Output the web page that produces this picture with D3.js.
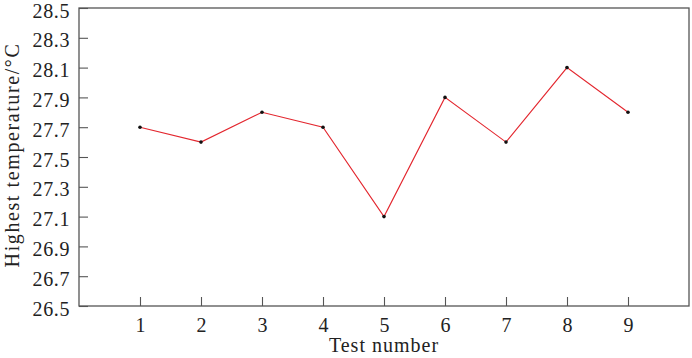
<!DOCTYPE html>
<html>
<head>
<meta charset="utf-8">
<script src="https://cdn.jsdelivr.net/npm/d3@7"></script>
<style>
  body { margin: 0; background: #fff; }
  svg text { font-family: "Liberation Serif", "DejaVu Serif", serif; fill: #222; }
</style>
</head>
<body>
<svg id="chart" width="692" height="358"></svg>
<script>
// test numbers and measured peak temperatures
const test_numbers = [1, 2, 3, 4, 5, 6, 7, 8, 9];
const highest_temp = [27.7, 27.6, 27.8, 27.7, 27.1, 27.9, 27.6, 28.1, 27.8];
const y_ticks = [26.5, 26.7, 26.9, 27.1, 27.3, 27.5, 27.7, 27.9, 28.1, 28.3, 28.5];

const svg = d3.select('#chart');
const margin = {left: 79, top: 8, right: 3, bottom: 52};
const width = 692 - margin.left - margin.right;
const height = 358 - margin.top - margin.bottom;
const tick_len = 9;
const font_size = 20;

const g = svg.append('g').attr('transform', 'translate(' + margin.left + ',' + margin.top + ')');

let x = d3.scaleLinear().domain([0, 10]).range([0, width]);
let y = d3.scaleLinear().domain([26.5, 28.5]).range([height, 0]);

// frame
g.append('rect').attr('width', width).attr('height', height)
  .attr('fill', 'none').attr('stroke', '#555').attr('stroke-width', 1.3);

// x axis, ticks pointing inward
let x_axis = g.append('g').attr('transform', 'translate(0,' + height + ')')
  .call(d3.axisBottom(x).tickValues(test_numbers).tickFormat(d3.format('d')).tickSizeInner(-tick_len).tickSizeOuter(0).tickPadding(12));
x_axis.select('.domain').remove();
x_axis.selectAll('line').attr('stroke', '#555').attr('stroke-width', 1.1);
x_axis.selectAll('text').attr('font-size', font_size).attr('fill', '#222');

// y axis
let y_axis = g.append('g')
  .call(d3.axisLeft(y).tickValues(y_ticks).tickFormat(d3.format('.1f')).tickSizeInner(-tick_len).tickSizeOuter(0).tickPadding(9));
y_axis.select('.domain').remove();
y_axis.selectAll('line').attr('stroke', '#555').attr('stroke-width', 1.1);
y_axis.selectAll('text').attr('font-size', font_size).attr('fill', '#222').attr('dy', '0.45em').attr('letter-spacing', 0.6);
svg.selectAll('.tick text').attr('font-family', null);

// axis titles
g.append('text').attr('x', width / 2).attr('y', height + 46)
  .attr('text-anchor', 'middle').attr('font-size', font_size).attr('letter-spacing', 1).text('Test number');
g.append('text').attr('transform', 'translate(' + (19 - margin.left) + ',' + (155 - margin.top) + ') rotate(-90)')
  .attr('text-anchor', 'middle').attr('font-size', font_size).attr('letter-spacing', 1.6).text('Highest temperature/\u00B0C');

// series
let points = test_numbers.map((t, i) => ({t: t, v: highest_temp[i]}));
g.append('path').datum(points)
  .attr('fill', 'none').attr('stroke', '#e3262e').attr('stroke-width', 1.1)
  .attr('d', d3.line().x(d => x(d.t)).y(d => y(d.v)));
g.selectAll('.pt').data(points).enter().append('circle').attr('class', 'pt')
  .attr('cx', d => x(d.t)).attr('cy', d => y(d.v)).attr('r', 1.8).attr('fill', '#111');
</script>
</body>
</html>
